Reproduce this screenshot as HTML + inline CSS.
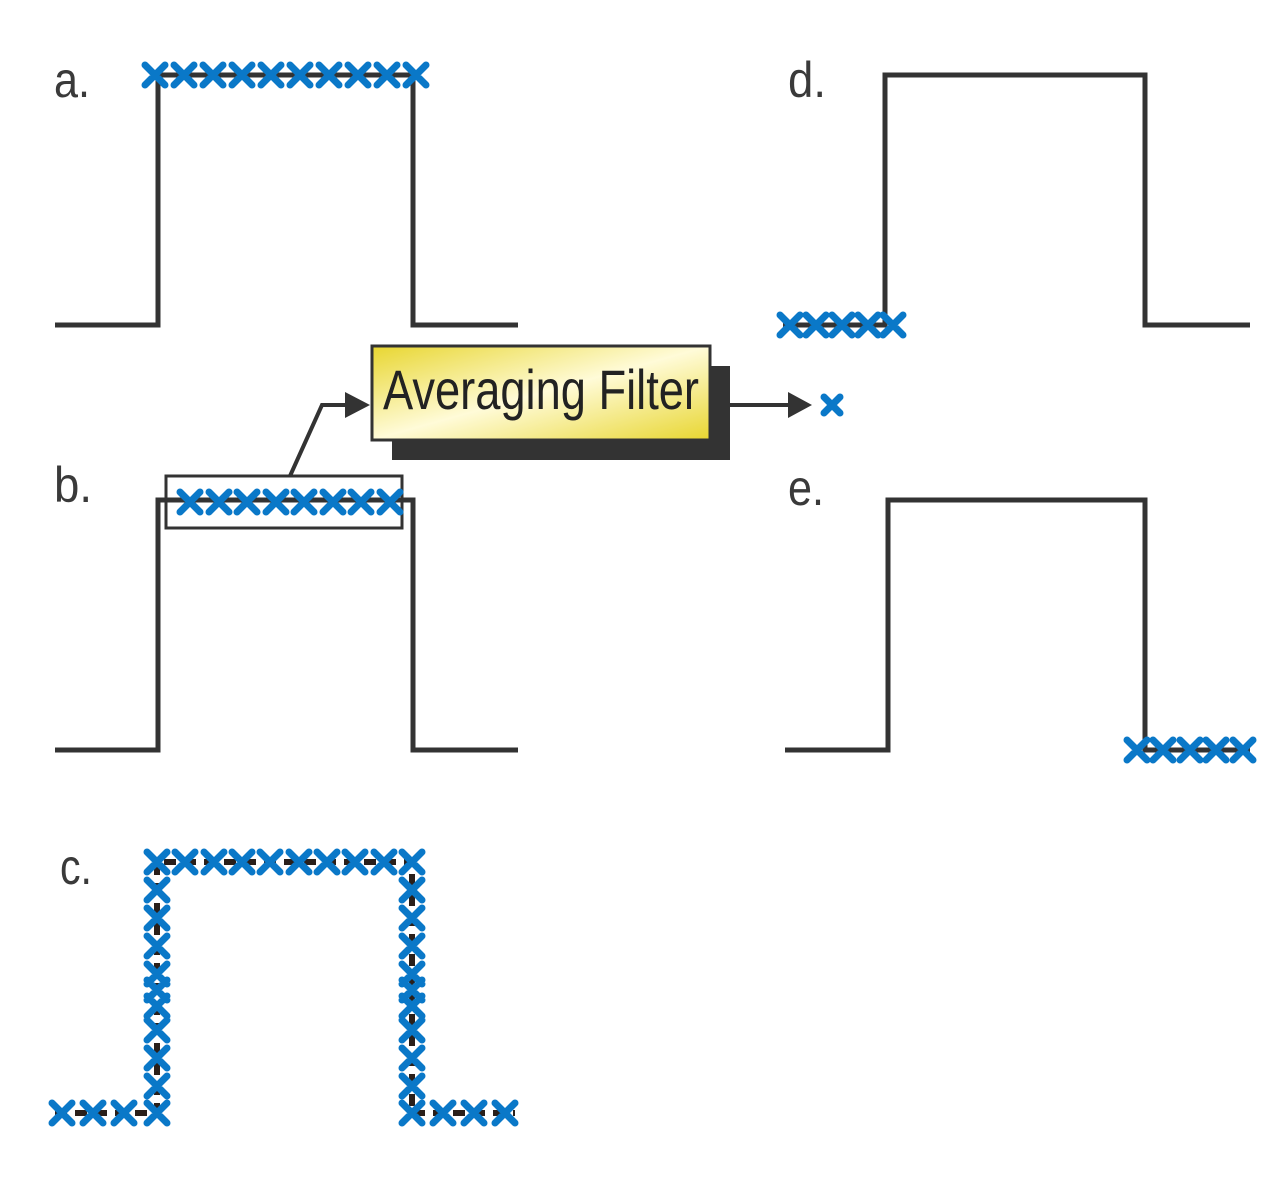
<!DOCTYPE html>
<html><head><meta charset="utf-8"><style>
html,body{margin:0;padding:0;background:#fff;width:1280px;height:1190px;overflow:hidden}
svg{display:block}
.lbl{font-family:"Liberation Sans Narrow","Liberation Sans",sans-serif;font-size:50px;fill:#3a3a3a}
</style></head><body>
<svg width="1280" height="1190" viewBox="0 0 1280 1190" xmlns="http://www.w3.org/2000/svg">
<defs>
<linearGradient id="yg" x1="0" y1="0" x2="1" y2="1">
<stop offset="0" stop-color="#e8d630"/><stop offset="0.5" stop-color="#fffbd8"/><stop offset="1" stop-color="#e8d630"/>
</linearGradient>
</defs>
<g fill="none" stroke="#333" stroke-width="5">
<path d="M55 325 H158 V75 H413 V325 H518"/>
<path d="M55 750 H158 V500 H413 V750 H518"/>
<path d="M783 325 H885 V75 H1145 V325 H1250"/>
<path d="M785 750 H888 V500 H1145 V750 H1250"/>
</g>
<path d="M55 1113 H157 V862 H412 V1113 H515" fill="none" stroke="#2a1f1a" stroke-width="6" stroke-dasharray="12 8"/>
<rect x="166" y="476" width="236" height="52" fill="none" stroke="#333" stroke-width="3"/>
<path d="M290 476 L322 405 H350" fill="none" stroke="#333" stroke-width="4"/>
<polygon points="345,392 370,405 345,418" fill="#333"/>
<rect x="392" y="366" width="338" height="94" fill="#333"/>
<rect x="372" y="346" width="338" height="94" fill="url(#yg)" stroke="#333" stroke-width="3"/>
<text x="541" y="409" text-anchor="middle" font-family="Liberation Sans Narrow, Liberation Sans, sans-serif" font-size="56" fill="#222" textLength="316" lengthAdjust="spacingAndGlyphs">Averaging Filter</text>
<path d="M730 405 H792" stroke="#333" stroke-width="4"/>
<polygon points="788,392 812,405 788,418" fill="#333"/>
<g stroke="#0a78c8" stroke-width="7" stroke-linecap="round" fill="none">
<path d="M832 405 m-8 -8 l16 16 m0 -16 l-16 16"/>
<path transform="translate(-2,-2)" d="
M147 67 l20 20 m0 -20 l-20 20 M176 67 l20 20 m0 -20 l-20 20 M205 67 l20 20 m0 -20 l-20 20 M234 67 l20 20 m0 -20 l-20 20 M263 67 l20 20 m0 -20 l-20 20 M292 67 l20 20 m0 -20 l-20 20 M321 67 l20 20 m0 -20 l-20 20 M350 67 l20 20 m0 -20 l-20 20 M379 67 l20 20 m0 -20 l-20 20 M408 67 l20 20 m0 -20 l-20 20
M182 494 l20 20 m0 -20 l-20 20 M211 494 l20 20 m0 -20 l-20 20 M239 494 l20 20 m0 -20 l-20 20 M268 494 l20 20 m0 -20 l-20 20 M296 494 l20 20 m0 -20 l-20 20 M325 494 l20 20 m0 -20 l-20 20 M353 494 l20 20 m0 -20 l-20 20 M382 494 l20 20 m0 -20 l-20 20
M782 317 l20 20 m0 -20 l-20 20 M808 317 l20 20 m0 -20 l-20 20 M834 317 l20 20 m0 -20 l-20 20 M860 317 l20 20 m0 -20 l-20 20 M885 317 l20 20 m0 -20 l-20 20
M1129 742 l20 20 m0 -20 l-20 20 M1155 742 l20 20 m0 -20 l-20 20 M1182 742 l20 20 m0 -20 l-20 20 M1208 742 l20 20 m0 -20 l-20 20 M1235 742 l20 20 m0 -20 l-20 20
M149 854 l20 20 m0 -20 l-20 20 M177 854 l20 20 m0 -20 l-20 20 M206 854 l20 20 m0 -20 l-20 20 M234 854 l20 20 m0 -20 l-20 20 M262 854 l20 20 m0 -20 l-20 20 M291 854 l20 20 m0 -20 l-20 20 M319 854 l20 20 m0 -20 l-20 20 M347 854 l20 20 m0 -20 l-20 20 M376 854 l20 20 m0 -20 l-20 20 M404 854 l20 20 m0 -20 l-20 20
M149 882 l20 20 m0 -20 l-20 20 M149 910 l20 20 m0 -20 l-20 20 M149 938 l20 20 m0 -20 l-20 20 M149 966 l20 20 m0 -20 l-20 20 M149 982 l20 20 m0 -20 l-20 20 M149 998 l20 20 m0 -20 l-20 20 M149 1022 l20 20 m0 -20 l-20 20 M149 1050 l20 20 m0 -20 l-20 20 M149 1078 l20 20 m0 -20 l-20 20 M149 1105 l20 20 m0 -20 l-20 20
M404 882 l20 20 m0 -20 l-20 20 M404 910 l20 20 m0 -20 l-20 20 M404 938 l20 20 m0 -20 l-20 20 M404 966 l20 20 m0 -20 l-20 20 M404 982 l20 20 m0 -20 l-20 20 M404 998 l20 20 m0 -20 l-20 20 M404 1022 l20 20 m0 -20 l-20 20 M404 1050 l20 20 m0 -20 l-20 20 M404 1078 l20 20 m0 -20 l-20 20 M404 1105 l20 20 m0 -20 l-20 20
M54 1105 l20 20 m0 -20 l-20 20 M85 1105 l20 20 m0 -20 l-20 20 M116 1105 l20 20 m0 -20 l-20 20
M435 1105 l20 20 m0 -20 l-20 20 M466 1105 l20 20 m0 -20 l-20 20 M497 1105 l20 20 m0 -20 l-20 20
"/>
</g>
<text class="lbl" x="54" y="97" textLength="36" lengthAdjust="spacingAndGlyphs">a.</text>
<text class="lbl" x="788" y="97" textLength="38" lengthAdjust="spacingAndGlyphs">d.</text>
<text class="lbl" x="54" y="502" textLength="38" lengthAdjust="spacingAndGlyphs">b.</text>
<text class="lbl" x="788" y="505" textLength="36" lengthAdjust="spacingAndGlyphs">e.</text>
<text class="lbl" x="60" y="884" textLength="32" lengthAdjust="spacingAndGlyphs">c.</text>
</svg>
</body></html>
